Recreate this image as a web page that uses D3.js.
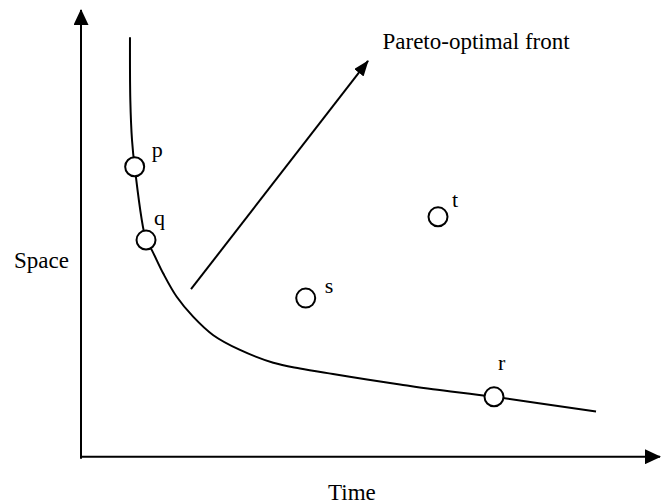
<!DOCTYPE html>
<html>
<head>
<meta charset="utf-8">
<script src="https://cdn.jsdelivr.net/npm/d3@7"></script>
<style>
    html, body { margin: 0; background: #fff; }
    svg { display: block; }
</style>
</head>
<body>
<div id="chart"></div>
<script>
// Pareto front curve (time, space)
const frontTime  = [0.846, 0.852, 0.881, 0.927, 1.123, 1.221, 1.421, 1.653, 1.940, 2.285, 2.746, 3.321, 3.782, 4.352, 4.940, 5.510, 6.079, 7.133, 8.895];
const frontSpace = [9.39, 7.98, 7.09, 6.49, 4.85, 4.63, 4.10, 3.58, 3.13, 2.72, 2.39, 2.104, 1.975, 1.851, 1.728, 1.616, 1.509, 1.34, 1.01];

// labelled solutions
const pointNames = ['p', 'q', 'r', 's', 't'];
const pointTime  = [0.927, 1.123, 7.133, 3.881, 6.166];
const pointSpace = [6.49, 4.85, 1.34, 3.55, 5.37];

// arrow pointing in the direction of the front
const arrowFrom = [1.90, 3.75];
const arrowTo   = [4.957, 8.86];

const axisTitles = ['Time', 'Space'];
const arrowTitle = 'Pareto-optimal front';

const width = 666;
const height = 504;
const margin = { top: 10, right: 6, bottom: 47.3, left: 81 };
const serif = '"Liberation Serif", "Times New Roman", Times, serif';

const svg = d3.select('#chart')
    .append('svg')
    .attr('width', width)
    .attr('height', height)
    .attr('font-family', serif);

// scales (unitless time / space)
const x = d3.scaleLinear()
    .domain([0, 10])
    .range([margin.left, width - margin.right]);

const y = d3.scaleLinear()
    .domain([0, 10])
    .range([height - margin.bottom, margin.top]);

// arrow heads
const defs = svg.append('defs');
defs.append('marker')
    .attr('id', 'axis-head')
    .attr('markerUnits', 'userSpaceOnUse')
    .attr('markerWidth', 16)
    .attr('markerHeight', 15)
    .attr('refX', 15)
    .attr('refY', 7.5)
    .attr('orient', 'auto')
    .append('path')
    .attr('d', 'M0,0 L16,7.5 L0,15 Z')
    .attr('fill', '#000');

defs.append('marker')
    .attr('id', 'front-head')
    .attr('markerUnits', 'userSpaceOnUse')
    .attr('markerWidth', 16)
    .attr('markerHeight', 12)
    .attr('refX', 15)
    .attr('refY', 6)
    .attr('orient', 'auto')
    .append('path')
    .attr('d', 'M0,0 L16,6 L0,12 Z')
    .attr('fill', '#000');

// axes: plain lines with arrow heads
const [x0, x1] = x.range();
const [y0, y1] = y.range();

svg.append('line')
    .attr('x1', x0).attr('y1', y0 + 2)
    .attr('x2', x0).attr('y2', y1)
    .attr('stroke', '#000')
    .attr('stroke-width', 2)
    .attr('marker-end', 'url(#axis-head)');

svg.append('line')
    .attr('x1', x0 - 1).attr('y1', y0)
    .attr('x2', x1).attr('y2', y0)
    .attr('stroke', '#000')
    .attr('stroke-width', 2)
    .attr('marker-end', 'url(#axis-head)');

// axis titles
svg.append('text')
    .attr('x', 328)
    .attr('y', 500)
    .attr('font-size', 23)
    .text(axisTitles[0]);

svg.append('text')
    .attr('x', 14)
    .attr('y', 268)
    .attr('font-size', 23)
    .text(axisTitles[1]);

// front curve
const frontData = frontTime.map((t, i) => ({ t, s: frontSpace[i] }));
const line = d3.line()
    .x(d => x(d.t))
    .y(d => y(d.s))
    .curve(d3.curveCatmullRom.alpha(0.5));

svg.append('path')
    .datum(frontData)
    .attr('d', line)
    .attr('fill', 'none')
    .attr('stroke', '#000')
    .attr('stroke-width', 2);

// direction arrow + its label
svg.append('line')
    .attr('x1', x(arrowFrom[0])).attr('y1', y(arrowFrom[1]))
    .attr('x2', x(arrowTo[0])).attr('y2', y(arrowTo[1]))
    .attr('stroke', '#000')
    .attr('stroke-width', 2)
    .attr('marker-end', 'url(#front-head)');

svg.append('text')
    .attr('x', 382.5)
    .attr('y', 49)
    .attr('font-size', 23)
    .text(arrowTitle);

// points
const points = pointNames.map((name, i) => ({ name, t: pointTime[i], s: pointSpace[i] }));
// label offsets from each circle (px)
const labelDx = [17, 8, 4, 19, 14];
const labelDy = [-10, -15, -27, -5, -10];

svg.selectAll('.pt')
    .data(points)
    .enter()
    .append('circle')
    .attr('class', 'pt')
    .attr('cx', d => x(d.t))
    .attr('cy', d => y(d.s))
    .attr('r', 9.5)
    .attr('fill', '#fff')
    .attr('stroke', '#000')
    .attr('stroke-width', 2);

svg.selectAll('.pt-label')
    .data(points)
    .enter()
    .append('text')
    .attr('class', 'pt-label')
    .attr('x', (d, i) => x(d.t) + labelDx[i])
    .attr('y', (d, i) => y(d.s) + labelDy[i])
    .attr('font-size', 22)
    .text(d => d.name);
</script>
</body>
</html>
